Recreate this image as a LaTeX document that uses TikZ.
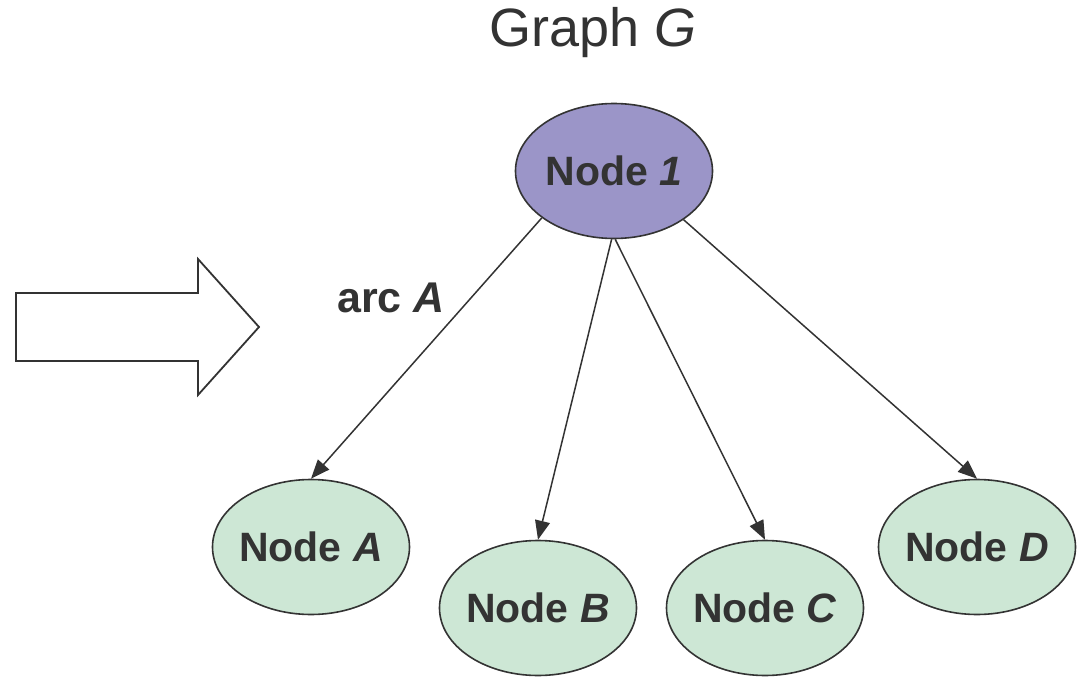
\documentclass[tikz,border=0pt]{standalone}
\usepackage{fontspec}
\setmainfont{Liberation Sans}
\usetikzlibrary{shapes.geometric,arrows.meta}
\definecolor{ink}{HTML}{333333}
\definecolor{rootfill}{HTML}{9B95C8}
\definecolor{leaffill}{HTML}{CDE7D5}
% label of fixed zero width, so the ellipse keeps its set size
\newcommand{\glabel}[1]{\makebox[0pt][c]{#1}}
\tikzset{
  gnode/.style={ellipse, draw=ink, line width=1.6pt, inner sep=0pt,
    minimum width=197pt, minimum height=135pt, text=ink,
    font=\fontsize{41}{45}\selectfont\bfseries},
  rootnode/.style={gnode, fill=rootfill},
  leafnode/.style={gnode, fill=leaffill},
  edge/.style={draw=ink, line width=1.5pt,
    -{Triangle[length=19pt,width=15pt]}},
  blockarrow/.style={draw=ink, line width=1.8pt, fill=white, line join=miter}
}
\begin{document}
\begin{tikzpicture}[x=1pt,y=-1pt]
  \useasboundingbox (0,0) rectangle (1088,677);
  % title
  \node[text=ink, font=\fontsize{54}{60}\selectfont] (title) at (593,33) {Graph \textit{G}};
  % nodes
  \node[rootnode] (n1) at (614,171) {\glabel{Node \textit{1}}};
  \node[leafnode] (na) at (311,547) {\glabel{Node \textit{A}}};
  \node[leafnode] (nb) at (538,608) {\glabel{Node \textit{B}}};
  \node[leafnode] (nc) at (765,608) {\glabel{Node \textit{C}}};
  \node[leafnode] (nd) at (977,547) {\glabel{Node \textit{D}}};
  % arcs
  \draw[edge] (n1.213.5) -- (na.north);
  \draw[edge] (n1.268.5) -- (nb.north);
  \draw[edge] (n1.271) -- (nc.north);
  \draw[edge] (n1.325.7) -- (nd.north);
  % arc label
  \node[text=ink, font=\fontsize{43}{47}\selectfont\bfseries] (arclabel) at (391,298) {arc \textit{A}};
  % block arrow
  \draw[blockarrow] (16,293) -- (198,293) -- (198,259) -- (259,327)
    -- (198,395) -- (198,361) -- (16,361) -- cycle;
\end{tikzpicture}
\end{document}
